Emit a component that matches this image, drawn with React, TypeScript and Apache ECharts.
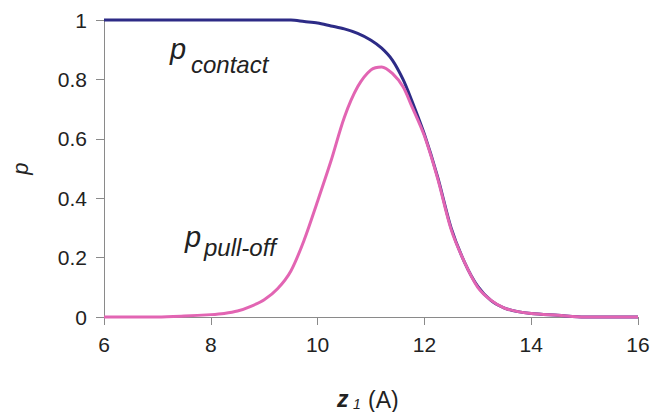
import React, { useEffect, useRef } from "react";
import * as echarts from "echarts";

const zValues = [6, 7, 7.5, 8, 8.25, 8.5, 8.75, 9, 9.25, 9.5, 9.75, 10, 10.25, 10.5, 10.75, 11, 11.2, 11.4, 11.6, 11.75, 12, 12.25, 12.5, 12.75, 13, 13.25, 13.5, 13.75, 14, 14.5, 15, 16];
const contactValues = [1, 1, 1, 1, 1, 1, 1, 1, 1, 1, 0.995, 0.99, 0.98, 0.97, 0.955, 0.932, 0.905, 0.865, 0.8, 0.735, 0.615, 0.47, 0.3, 0.185, 0.103, 0.055, 0.03, 0.018, 0.012, 0.006, 0, 0];
const pullOffValues = [0, 0, 0.003, 0.008, 0.012, 0.02, 0.036, 0.058, 0.095, 0.155, 0.26, 0.39, 0.525, 0.672, 0.775, 0.832, 0.842, 0.82, 0.775, 0.715, 0.61, 0.465, 0.295, 0.185, 0.1, 0.056, 0.03, 0.018, 0.012, 0.006, 0, 0];
const xTicks = { min: 6, max: 16, interval: 2 };
const yTicks = { min: 0, max: 1, interval: 0.2 };

const FONT = "Liberation Sans, Arial, sans-serif";
const AXIS_COLOR = "#8a8a8a";
const TEXT_COLOR = "#222";

export default function App() {
  const ref = useRef<HTMLDivElement>(null);
  useEffect(() => {
    if (!ref.current) return;
    const chart = echarts.init(ref.current, undefined, { renderer: "svg" });
    const contactData = zValues.map((z, i) => [z, contactValues[i]]);
    const pullData = zValues.map((z, i) => [z, pullOffValues[i]]);
    chart.setOption({
      animation: false,
      backgroundColor: "#fff",
      grid: { left: 104, right: 16, top: 20, bottom: 95 },
      xAxis: {
        type: "value",
        min: xTicks.min,
        max: xTicks.max,
        interval: xTicks.interval,
        axisLine: { lineStyle: { color: AXIS_COLOR, width: 1 } },
        axisTick: { show: true, length: 8, lineStyle: { color: AXIS_COLOR } },
        splitLine: { show: false },
        axisLabel: { color: TEXT_COLOR, fontSize: 21, fontFamily: FONT, margin: 17 },
      },
      yAxis: {
        type: "value",
        min: yTicks.min,
        max: yTicks.max,
        interval: yTicks.interval,
        name: "p",
        nameLocation: "middle",
        nameRotate: 90,
        nameGap: 73,
        nameTextStyle: { color: TEXT_COLOR, fontSize: 22, fontStyle: "italic", fontFamily: FONT },
        axisLine: { show: true, lineStyle: { color: AXIS_COLOR, width: 1 } },
        axisTick: { show: true, length: 8, lineStyle: { color: AXIS_COLOR } },
        splitLine: { show: false },
        axisLabel: { color: TEXT_COLOR, fontSize: 21, fontFamily: FONT, margin: 17 },
      },
      series: [
        {
          name: "p contact",
          type: "line",
          data: contactData,
          showSymbol: false,
          smooth: 0.3,
          lineStyle: { color: "#2d2b86", width: 3 },
          itemStyle: { color: "#2d2b86" },
          clip: false,
        },
        {
          name: "p pull-off",
          type: "line",
          data: pullData,
          showSymbol: false,
          smooth: 0.3,
          lineStyle: { color: "#e265b3", width: 3 },
          itemStyle: { color: "#e265b3" },
          clip: false,
        },
      ],
      graphic: [
        { type: "text", left: 170, top: 34, style: { text: "p", fontSize: 29, fontStyle: "italic", fontFamily: FONT, fill: TEXT_COLOR } },
        { type: "text", left: 191, top: 52, style: { text: "contact", fontSize: 24, fontStyle: "italic", fontFamily: FONT, fill: TEXT_COLOR } },
        { type: "text", left: 185, top: 222, style: { text: "p", fontSize: 29, fontStyle: "italic", fontFamily: FONT, fill: TEXT_COLOR } },
        { type: "text", left: 204, top: 235, style: { text: "pull-off", fontSize: 24, fontStyle: "italic", fontFamily: FONT, fill: TEXT_COLOR } },
        { type: "text", left: 337, top: 387, style: { text: "z", fontSize: 23, fontStyle: "italic", fontWeight: "bold", fontFamily: FONT, fill: TEXT_COLOR } },
        { type: "text", left: 353, top: 397, style: { text: "1", fontSize: 14, fontStyle: "italic", fontFamily: FONT, fill: TEXT_COLOR } },
        { type: "text", left: 368, top: 388, style: { text: "(A)", fontSize: 23, fontFamily: FONT, fill: TEXT_COLOR } },
      ],
    });
    return () => chart.dispose();
  }, []);
  return (
    <div
      ref={ref}
      style={{ position: "absolute", left: 0, top: 0, width: 654, height: 412, background: "#fff" }}
    />
  );
}
